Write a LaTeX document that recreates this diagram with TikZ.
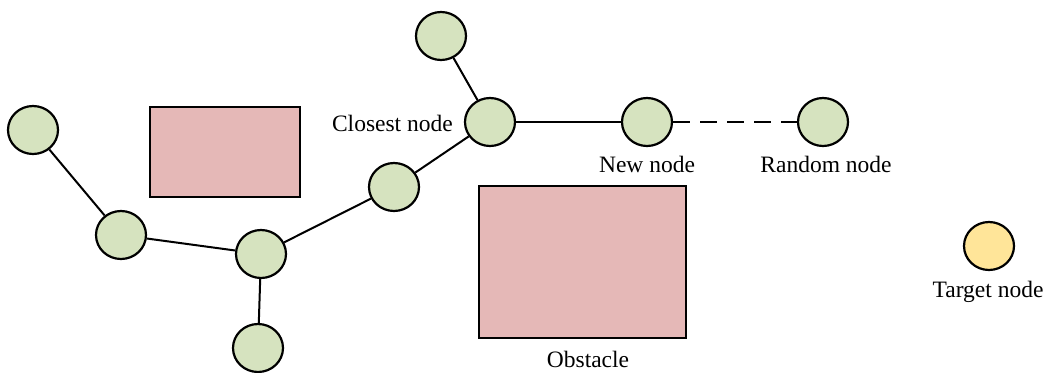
\documentclass[tikz,border=0pt]{standalone}
\usepackage{fontspec}
\setmainfont{Liberation Serif}
\usetikzlibrary{shapes.geometric}
\begin{document}
\begin{tikzpicture}[x=1pt,y=-1pt,
  treenode/.style={ellipse,draw=black,line width=2.2pt,fill={rgb,255:red,214;green,227;blue,191},minimum width=50pt,minimum height=48pt,inner sep=0pt},
  goalnode/.style={treenode,fill={rgb,255:red,255;green,229;blue,153}},
  obstacle/.style={draw=black,line width=2pt,fill={rgb,255:red,229;green,184;blue,183}},
  edge/.style={line width=2pt},
  label/.style={font=\fontsize{23.5pt}{27pt}\selectfont,inner sep=0pt}]
\useasboundingbox (0,0) rectangle (1043,372);
% obstacles
\draw[obstacle] (150,107) rectangle (300,197);
\draw[obstacle] (479,186) rectangle (686,338);
% tree nodes
\node[treenode] (a) at (33,130) {};
\node[treenode] (b) at (121,235) {};
\node[treenode] (c) at (261,254) {};
\node[treenode] (d) at (258,348) {};
\node[treenode] (e) at (394,187) {};
\node[treenode] (f) at (490,122) {};
\node[treenode] (g) at (441,36) {};
\node[treenode] (h) at (647,122) {};
\node[treenode] (r) at (823,122) {};
\node[goalnode] (t) at (989,246) {};
% connections
\draw[edge] (a) -- (b);
\draw[edge] (b) -- (c);
\draw[edge] (c) -- (d);
\draw[edge] (c) -- (e);
\draw[edge] (e) -- (f);
\draw[edge] (f) -- (g);
\draw[edge] (f) -- (h);
\draw[edge,dash pattern=on 17pt off 10pt] (h) -- (r);
% labels
\node[label,anchor=east] (lc) at (453,123) {Closest node};
\node[label] (ln) at (647,164) {New node};
\node[label] (lr) at (826,164) {Random node};
\node[label] (lt) at (988,292) {Target node};
\node[label] (lo) at (588,359) {Obstacle};
\end{tikzpicture}
\end{document}
